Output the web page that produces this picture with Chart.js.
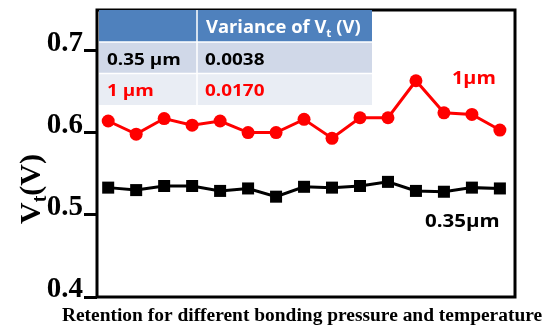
<!DOCTYPE html>
<html>
<head>
<meta charset="utf-8">
<script src="https://cdn.jsdelivr.net/npm/chart.js@4/dist/chart.umd.min.js"></script>
<style>
  html, body { margin: 0; padding: 0; background: #fff; }
  #chart { display: block; }
</style>
</head>
<body>
<canvas id="chart" width="555" height="327"></canvas>
<script>
// bonding condition index (no tick labels on the x axis)
const conditions = [1, 2, 3, 4, 5, 6, 7, 8, 9, 10, 11, 12, 13, 14, 15];
// Vt values
const vt1um = [0.614, 0.598, 0.617, 0.609, 0.614, 0.600, 0.600, 0.616, 0.593, 0.618, 0.618, 0.663, 0.624, 0.622, 0.603];
const vt035um = [0.533, 0.530, 0.535, 0.535, 0.529, 0.532, 0.522, 0.534, 0.533, 0.535, 0.540, 0.529, 0.528, 0.533, 0.532];
const yTicks = [0.4, 0.5, 0.6, 0.7];
// variance table
const tableHeader = ['', 'Variance of V', 't', ' (V)'];
const tableSizes = ['0.35 \u00b5m', '1 \u00b5m'];
const tableVariance = ['0.0038', '0.0170'];
const tableColors = ['#000000', '#ff0000'];

const RED = '#ff0000';
const BLACK = '#000000';

function toPoints(values) {
    return conditions.map(function(c, i) { return { x: c, y: values[i] }; });
}

function drawText(ctx, str, x, y, font, color, sx) {
    ctx.save();
    ctx.font = font;
    ctx.fillStyle = color;
    ctx.translate(x, y);
    ctx.scale(sx || 1, 1);
    ctx.fillText(str, 0, 0);
    ctx.restore();
}

const decor = {
    id: 'decor',
    afterDraw: function(chart) {
        const ctx = chart.ctx;
        const a = chart.chartArea;
        ctx.save();

        // plot frame
        ctx.strokeStyle = BLACK;
        ctx.lineWidth = 3;
        ctx.strokeRect(a.left, a.top, a.right - a.left, a.bottom - a.top);

        // variance table
        const tx = [99, 197, 372];
        const ty = [10, 42, 73.5, 105];
        const fills = ['#4f81bd', '#d0d8e8', '#e9edf4'];
        for (let r = 0; r < 3; r++) {
            ctx.fillStyle = fills[r];
            ctx.fillRect(tx[0], ty[r], tx[2] - tx[0], ty[r + 1] - ty[r]);
        }
        ctx.strokeStyle = '#ffffff';
        ctx.lineWidth = 1.5;
        ctx.beginPath();
        ctx.moveTo(tx[1], ty[0]); ctx.lineTo(tx[1], ty[3]);
        ctx.moveTo(tx[0], ty[1]); ctx.lineTo(tx[2], ty[1]);
        ctx.moveTo(tx[0], ty[2]); ctx.lineTo(tx[2], ty[2]);
        ctx.stroke();

        const sans = '"Open Sans", sans-serif';
        const sx = 1.08;
        // header with subscript
        let hx = 206;
        ctx.font = 'bold 17px ' + sans;
        drawText(ctx, tableHeader[1], hx, 33, 'bold 17px ' + sans, '#ffffff', sx);
        hx += ctx.measureText(tableHeader[1]).width * sx;
        drawText(ctx, tableHeader[2], hx, 37, 'bold 11px ' + sans, '#ffffff', sx);
        ctx.font = 'bold 11px ' + sans;
        hx += ctx.measureText(tableHeader[2]).width * sx;
        drawText(ctx, tableHeader[3], hx, 33, 'bold 17px ' + sans, '#ffffff', sx);

        const rowBase = [64.5, 95.5];
        for (let i = 0; i < tableSizes.length; i++) {
            drawText(ctx, tableSizes[i], 107, rowBase[i], 'bold 15.5px ' + sans, tableColors[i], 1.22);
            drawText(ctx, tableVariance[i], 205, rowBase[i], 'bold 15.5px ' + sans, tableColors[i], 1.22);
        }

        // series labels
        drawText(ctx, '1\u00b5m', 452, 84, 'bold 18px ' + sans, RED, 1.1);
        drawText(ctx, '0.35\u00b5m', 425, 227, 'bold 18px ' + sans, BLACK, 1.14);

        // y axis title: V_t(V), rotated
        const serif = '"Liberation Serif", "Times New Roman", serif';
        ctx.save();
        ctx.translate(40, 189);
        ctx.rotate(-Math.PI / 2);
        ctx.fillStyle = BLACK;
        ctx.font = 'bold 30px ' + serif;
        const wV = ctx.measureText('V').width;
        const wP = ctx.measureText('(V)').width;
        ctx.font = 'bold 20px ' + serif;
        const wT = ctx.measureText('t').width;
        let px = -(wV + wT + wP) / 2;
        ctx.font = 'bold 30px ' + serif;
        ctx.fillText('V', px, 0);
        px += wV;
        ctx.font = 'bold 20px ' + serif;
        ctx.fillText('t', px, 6);
        px += wT;
        ctx.font = 'bold 30px ' + serif;
        ctx.fillText('(V)', px, 0);
        ctx.restore();

        // x axis title
        ctx.save();
        ctx.font = 'bold 18px ' + serif;
        ctx.fillStyle = BLACK;
        ctx.textAlign = 'center';
        ctx.translate(302, 321);
        ctx.scale(1.08, 1);
        ctx.fillText('Retention for different bonding pressure and temperature', 0, 0);
        ctx.restore();

        ctx.restore();
    }
};

const ctx = document.getElementById('chart').getContext('2d');
new Chart(ctx, {
    type: 'line',
    data: {
        datasets: [
            {
                label: '1\u00b5m',
                data: toPoints(vt1um),
                borderColor: RED,
                backgroundColor: RED,
                borderWidth: 3,
                pointStyle: 'circle',
                pointRadius: 6.5,
                pointBorderWidth: 0,
                tension: 0
            },
            {
                label: '0.35\u00b5m',
                data: toPoints(vt035um),
                borderColor: BLACK,
                backgroundColor: BLACK,
                borderWidth: 3,
                pointStyle: 'rect',
                pointRadius: 8.5,
                pointBorderWidth: 0,
                tension: 0
            }
        ]
    },
    options: {
        responsive: false,
        animation: false,
        devicePixelRatio: 1,
        layout: {
            padding: { top: 10, right: 40, bottom: 30, left: 0 }
        },
        plugins: {
            legend: { display: false },
            tooltip: { enabled: false }
        },
        scales: {
            x: {
                type: 'linear',
                display: false,
                min: 0.6,
                max: 15.54
            },
            y: {
                min: 0.4,
                max: 0.749,
                afterBuildTicks: function(scale) {
                    scale.ticks = yTicks.map(function(v) { return { value: v }; });
                },
                afterFit: function(scale) {
                    scale.width = 97;
                    scale.paddingTop = 0;
                    scale.paddingBottom = 0;
                },
                border: { display: false },
                grid: {
                    drawOnChartArea: false,
                    drawTicks: true,
                    tickLength: 13,
                    color: BLACK,
                    lineWidth: 3
                },
                ticks: {
                    padding: 1,
                    color: BLACK,
                    font: {
                        family: '"Liberation Serif", "Times New Roman", serif',
                        size: 29,
                        weight: 'bold',
                        lineHeight: 0.5
                    },
                    callback: function(v) { return [v.toFixed(1), '']; }
                }
            }
        }
    },
    plugins: [decor]
});
</script>
</body>
</html>
